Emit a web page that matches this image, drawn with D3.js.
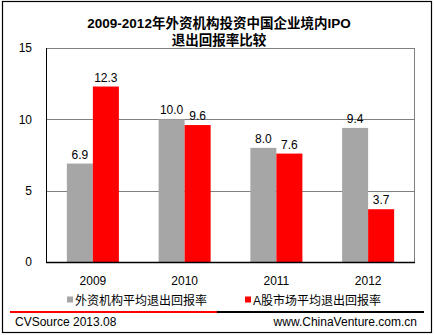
<!DOCTYPE html>
<html>
<head>
<meta charset="utf-8">
<script src="https://cdn.jsdelivr.net/npm/d3@7"></script>
<style>
  body { margin: 0; background: #fff; }
  svg text { font-family: Arial, "Liberation Sans", "Noto Sans CJK SC", sans-serif; }
</style>
</head>
<body>
<div id="chart"></div>
<script>
const years = ['2009', '2010', '2011', '2012'];
const seriesNames = ['外资机构平均退出回报率', 'A股市场平均退出回报率'];
const foreignReturn = [6.9, 10.0, 8.0, 9.4];
const aShareReturn = [12.3, 9.6, 7.6, 3.7];
const yTicks = [0, 5, 10, 15];
const titleLines = ['2009-2012年外资机构投资中国企业境内IPO', '退出回报率比较'];

const color = {
  series: ['#a6a6a6', '#ff0000'],
  grid: '#808080',
  axis: '#000000',
  text: '#000000'
};

const W = 435, H = 335;
const margin = { top: 48, right: 21, bottom: 73, left: 47 };
const width = W - margin.left - margin.right;
const height = H - margin.top - margin.bottom;

const svg = d3.select('#chart')
  .append('svg')
  .attr('width', W)
  .attr('height', H);

// outer frame
svg.append('rect')
  .attr('x', 2.5).attr('y', 1.5)
  .attr('width', 429).attr('height', 331)
  .attr('fill', 'none')
  .attr('stroke', '#000')
  .attr('stroke-width', 1.2);

// title
svg.append('g')
  .selectAll('text')
  .data(titleLines)
  .enter()
  .append('text')
  .attr('x', 219)
  .attr('y', (d, i) => 28 + i * 17)
  .attr('text-anchor', 'middle')
  .style('font-size', '13.5px')
  .style('font-weight', 'bold')
  .text((d) => d);

const g = svg.append('g')
  .attr('transform', `translate(${margin.left}, ${margin.top})`);

const y = d3.scaleLinear()
  .domain([0, 15])
  .range([height, 0]);

const x0 = d3.scaleBand()
  .domain(years)
  .range([0, width])
  .paddingInner(0.433)
  .paddingOuter(0.2165);

const x1 = d3.scaleBand()
  .domain([0, 1])
  .range([0, x0.bandwidth()]);

// grid lines
g.append('g')
  .selectAll('line')
  .data(yTicks.filter((d) => d > 0))
  .enter()
  .append('line')
  .attr('x1', 0)
  .attr('x2', width)
  .attr('y1', (d) => Math.round(y(d)) + 0.5)
  .attr('y2', (d) => Math.round(y(d)) + 0.5)
  .attr('stroke', color.grid);

// right border
g.append('line')
  .attr('x1', width + 0.5).attr('x2', width + 0.5)
  .attr('y1', y(15)).attr('y2', height)
  .attr('stroke', color.grid);

// y axis labels
g.append('g')
  .attr('transform', 'translate(-15, 0)')
  .call(d3.axisLeft(y).tickValues(yTicks).tickSize(0).tickPadding(0))
  .call((sel) => sel.select('.domain').remove())
  .selectAll('text')
  .style('font-family', 'Arial, "Liberation Sans", sans-serif')
  .style('font-size', '12px')
  .attr('fill', color.text);

// bars
const rows = years.map((yr, i) => ({ year: yr, values: [foreignReturn[i], aShareReturn[i]] }));

const groups = g.selectAll('.grp')
  .data(rows)
  .enter()
  .append('g')
  .attr('transform', (d) => `translate(${x0(d.year)}, 0)`);

groups.selectAll('rect')
  .data((d) => d.values.map((v, k) => ({ k, v })))
  .enter()
  .append('rect')
  .attr('x', (d) => x1(d.k))
  .attr('y', (d) => y(d.v))
  .attr('width', x1.bandwidth())
  .attr('height', (d) => height - y(d.v))
  .attr('fill', (d) => color.series[d.k]);

groups.selectAll('text')
  .data((d) => d.values.map((v, k) => ({ k, v })))
  .enter()
  .append('text')
  .attr('x', (d) => x1(d.k) + x1.bandwidth() / 2)
  .attr('y', (d) => y(d.v) - 5)
  .attr('text-anchor', 'middle')
  .style('font-size', '12px')
  .text((d) => d.v.toFixed(1));

// left and bottom axis lines
g.append('line')
  .attr('x1', -0.5).attr('x2', -0.5)
  .attr('y1', y(15)).attr('y2', height + 1)
  .attr('stroke', color.axis);
g.append('line')
  .attr('x1', -1).attr('x2', width + 1)
  .attr('y1', height + 0.5).attr('y2', height + 0.5)
  .attr('stroke', color.axis)
  .attr('stroke-width', 1.5);

// x axis labels
g.append('g')
  .attr('transform', `translate(0, ${height})`)
  .call(d3.axisBottom(x0).tickSize(0).tickPadding(0))
  .call((sel) => sel.select('.domain').remove())
  .selectAll('text')
  .attr('dy', 0)
  .attr('y', 23)
  .style('font-family', 'Arial, "Liberation Sans", sans-serif')
  .style('font-size', '12px')
  .attr('fill', color.text);

// legend
const legend = svg.append('g');
const legendX = [67, 245];
seriesNames.forEach((name, i) => {
  legend.append('rect')
    .attr('x', legendX[i]).attr('y', 296.5)
    .attr('width', 6).attr('height', 6)
    .attr('fill', color.series[i]);
  legend.append('text')
    .attr('x', legendX[i] + 8).attr('y', 305)
    .style('font-size', '12px')
    .text(name);
});

// footer
svg.append('line')
  .attr('x1', 10).attr('x2', 217)
  .attr('y1', 312).attr('y2', 312)
  .attr('stroke', '#ff0000').attr('stroke-width', 2);
svg.append('line')
  .attr('x1', 217).attr('x2', 424)
  .attr('y1', 312).attr('y2', 312)
  .attr('stroke', '#000').attr('stroke-width', 2);
svg.append('text')
  .attr('x', 15).attr('y', 326)
  .style('font-size', '12px')
  .text('CVSource 2013.08');
svg.append('text')
  .attr('x', 417).attr('y', 326)
  .attr('text-anchor', 'end')
  .style('font-size', '12px')
  .text('www.ChinaVenture.com.cn');
</script>
</body>
</html>
